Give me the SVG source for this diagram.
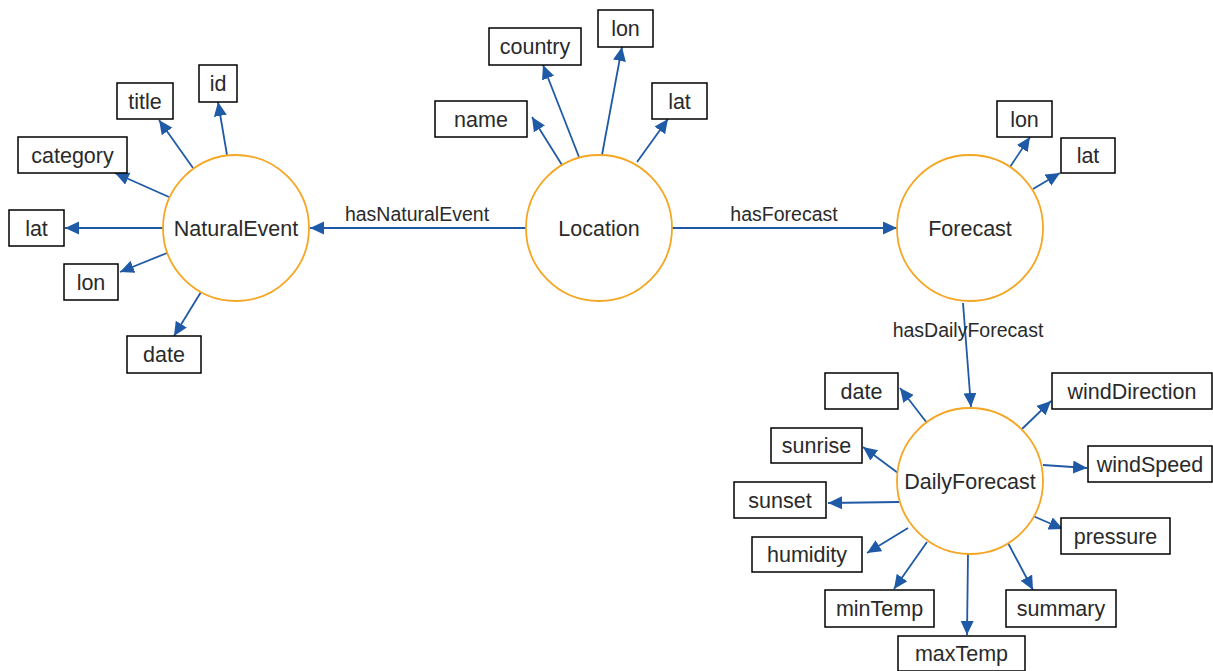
<svg xmlns="http://www.w3.org/2000/svg" width="1213" height="671" viewBox="0 0 1213 671">
<style>
.bg{fill:#ffffff}
.cls circle{fill:#ffffff;stroke:#f5a623;stroke-width:1.8}
.cls text{font-family:"Liberation Sans",Arial,sans-serif;font-size:21.5px;fill:#2a2a2a;text-anchor:middle}
.prop rect{fill:#ffffff;stroke:#000000;stroke-width:1.5}
.prop text{font-family:"Liberation Sans",Arial,sans-serif;font-size:21.5px;fill:#2a2a2a;text-anchor:middle}
.edges line{stroke:#1f5aa6;stroke-width:1.8;marker-end:url(#arr)}
.elabel{font-family:"Liberation Sans",Arial,sans-serif;font-size:19.5px;fill:#2a2a2a;text-anchor:middle}
</style>
<defs>
<marker id="arr" markerUnits="userSpaceOnUse" markerWidth="15" markerHeight="14" refX="14" refY="6.5" orient="auto">
<path d="M0,0 L14,6.5 L0,13 z" fill="#1f5aa6"/>
</marker>
</defs>
<rect class="bg" x="0" y="0" width="1213" height="671"/>

<g id="connectors" class="edges">
<!-- NaturalEvent -->
<line x1="227" y1="155" x2="218" y2="102"/>
<line x1="193" y1="168" x2="159" y2="120"/>
<line x1="169" y1="197" x2="115" y2="173"/>
<line x1="163" y1="228" x2="65" y2="228"/>
<line x1="167" y1="253" x2="120" y2="272"/>
<line x1="201" y1="292" x2="174" y2="336"/>
<!-- Location -->
<line x1="526" y1="228" x2="310" y2="228"/>
<line x1="671" y1="228" x2="897" y2="228"/>
<line x1="562" y1="165" x2="532" y2="117"/>
<line x1="579" y1="157" x2="543" y2="65"/>
<line x1="602" y1="155" x2="622" y2="47"/>
<line x1="637" y1="162" x2="668" y2="119"/>
<!-- Forecast -->
<line x1="1010" y1="167" x2="1030" y2="137"/>
<line x1="1033" y1="189" x2="1060" y2="173"/>
<line x1="963" y1="303" x2="971" y2="407"/>
<!-- DailyForecast -->
<line x1="927" y1="423" x2="900" y2="388"/>
<line x1="1022" y1="429" x2="1051" y2="401"/>
<line x1="898" y1="473" x2="863" y2="447"/>
<line x1="1043" y1="465" x2="1087" y2="468"/>
<line x1="899" y1="502" x2="828" y2="503"/>
<line x1="1033" y1="516" x2="1063" y2="529"/>
<line x1="908" y1="528" x2="867" y2="553"/>
<line x1="927" y1="542" x2="894" y2="589"/>
<line x1="968" y1="553" x2="967" y2="635"/>
<line x1="1008" y1="543" x2="1033" y2="590"/>
</g>

<g id="edge-labels">
<text class="elabel" x="417" y="221">hasNaturalEvent</text>
<text class="elabel" x="784" y="221">hasForecast</text>
<text class="elabel" x="968" y="337">hasDailyForecast</text>
</g>

<g id="NaturalEvent" class="cls"><circle cx="236" cy="228" r="73"/><text x="236" y="235.5">NaturalEvent</text></g>
<g id="Location" class="cls"><circle cx="599" cy="228" r="73"/><text x="599" y="235.5">Location</text></g>
<g id="Forecast" class="cls"><circle cx="970" cy="228" r="73"/><text x="970" y="235.5">Forecast</text></g>
<g id="DailyForecast" class="cls"><circle cx="970" cy="481" r="73"/><text x="970" y="488.5">DailyForecast</text></g>

<g id="ne-id" class="prop"><rect x="199" y="65" width="38" height="37"/><text x="218" y="91">id</text></g>
<g id="ne-title" class="prop"><rect x="117" y="83" width="56" height="36"/><text x="145" y="108.5">title</text></g>
<g id="ne-category" class="prop"><rect x="18" y="137" width="109" height="36"/><text x="72.5" y="162.5">category</text></g>
<g id="ne-lat" class="prop"><rect x="9" y="210" width="55" height="36"/><text x="36.5" y="235.5">lat</text></g>
<g id="ne-lon" class="prop"><rect x="64" y="264" width="54" height="36"/><text x="91" y="289.5">lon</text></g>
<g id="ne-date" class="prop"><rect x="127" y="336" width="74" height="37"/><text x="164" y="362">date</text></g>

<g id="loc-name" class="prop"><rect x="435" y="101" width="92" height="36"/><text x="481" y="126.5">name</text></g>
<g id="loc-country" class="prop"><rect x="489" y="28" width="92" height="37"/><text x="535" y="54">country</text></g>
<g id="loc-lon" class="prop"><rect x="598" y="10" width="55" height="37"/><text x="625.5" y="36">lon</text></g>
<g id="loc-lat" class="prop"><rect x="652" y="83" width="55" height="36"/><text x="679.5" y="108.5">lat</text></g>

<g id="fc-lon" class="prop"><rect x="997" y="101" width="55" height="36"/><text x="1024.5" y="126.5">lon</text></g>
<g id="fc-lat" class="prop"><rect x="1061" y="138" width="54" height="35"/><text x="1088" y="163">lat</text></g>

<g id="df-date" class="prop"><rect x="825" y="373" width="73" height="36"/><text x="861.5" y="398.5">date</text></g>
<g id="df-windDirection" class="prop"><rect x="1052" y="373" width="160" height="36"/><text x="1132" y="398.5">windDirection</text></g>
<g id="df-sunrise" class="prop"><rect x="771" y="428" width="91" height="35"/><text x="816.5" y="453">sunrise</text></g>
<g id="df-windSpeed" class="prop"><rect x="1088" y="446" width="124" height="36"/><text x="1150" y="471.5">windSpeed</text></g>
<g id="df-sunset" class="prop"><rect x="734" y="482" width="92" height="36"/><text x="780" y="507.5">sunset</text></g>
<g id="df-pressure" class="prop"><rect x="1061" y="518" width="109" height="36"/><text x="1115.5" y="543.5">pressure</text></g>
<g id="df-humidity" class="prop"><rect x="752" y="537" width="110" height="35"/><text x="807" y="562">humidity</text></g>
<g id="df-minTemp" class="prop"><rect x="825" y="590" width="109" height="37"/><text x="879.5" y="616">minTemp</text></g>
<g id="df-summary" class="prop"><rect x="1006" y="590" width="110" height="37"/><text x="1061" y="616">summary</text></g>
<g id="df-maxTemp" class="prop"><rect x="898" y="636" width="127" height="35"/><text x="961.5" y="661">maxTemp</text></g>
</svg>
